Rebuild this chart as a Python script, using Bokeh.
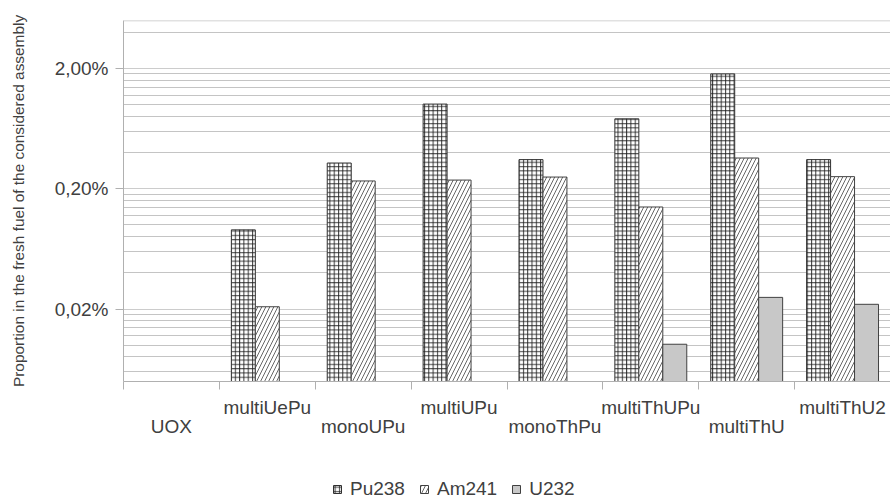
from bokeh.plotting import figure
from bokeh.layouts import column
from bokeh.models import (Range1d, FixedTicker, CustomJSTickFormatter, Legend,
                          LegendItem, Span, ColumnDataSource, LinearAxis)
from bokeh.embed import file_html
from bokeh.resources import INLINE

# ---------------- data ----------------
categories = ["UOX", "multiUePu", "monoUPu", "multiUPu", "monoThPu",
              "multiThUPu", "multiThU", "multiThU2"]
series_names = ["Pu238", "Am241", "U232"]
pu238 = [None, 0.091, 0.327, 1.01, 0.349, 0.762, 1.80, 0.349]   # percent
am241 = [None, 0.0209, 0.232, 0.236, 0.250, 0.141, 0.360, 0.252]
u232 = [None, None, None, None, None, 0.0102, 0.0250, 0.0219]
y_major_ticks = [0.02, 0.2, 2.0]
y_minor_ticks = [0.006, 0.008, 0.010, 0.012, 0.014, 0.016, 0.018,
                 0.04, 0.06, 0.08, 0.10, 0.12, 0.14, 0.16, 0.18,
                 0.4, 0.6, 0.8, 1.0, 1.2, 1.4, 1.6, 1.8,
                 4.0]
y_title = "Proportion in the fresh fuel of the considered assembly"

# ---------------- layout ----------------
FONT = "Liberation Sans"
TXT = "#404040"
AX = "#b0b0b0"
Y0, Y1 = 0.005, 5.0
n = len(categories)
W = 890
H_MAIN, H_LEG = 466, 36

p = figure(width=W, height=H_MAIN, y_axis_type="log",
           x_range=Range1d(0, n), y_range=Range1d(Y0, Y1),
           output_backend="svg", toolbar_location=None,
           min_border_left=123, min_border_right=0,
           min_border_top=20, min_border_bottom=H_MAIN - 381)
p.outline_line_color = None

# grid
yt = FixedTicker(ticks=y_major_ticks, minor_ticks=y_minor_ticks)
p.yaxis.ticker = yt
p.ygrid.ticker = yt
p.ygrid.grid_line_color = "#cccccc"
p.ygrid.minor_grid_line_color = "#c4c4c4"
p.xgrid.grid_line_color = None
p.add_layout(Span(location=Y1, dimension="width", line_color="#c4c4c4", line_width=1.5))

# y axis
p.yaxis.formatter = CustomJSTickFormatter(code="return tick.toFixed(2).replace('.', ',') + '%';")
p.yaxis.major_label_text_font = FONT
p.yaxis.major_label_text_font_size = "19px"
p.yaxis.major_label_text_color = TXT
p.yaxis.major_label_standoff = 7
p.yaxis.major_tick_out = 8
p.yaxis.major_tick_in = 0
p.yaxis.minor_tick_line_color = None
p.yaxis.axis_line_color = AX
p.yaxis.major_tick_line_color = AX
p.yaxis.axis_label = y_title
p.yaxis.axis_label_text_font = FONT
p.yaxis.axis_label_text_font_size = "15.4px"
p.yaxis.axis_label_text_font_style = "normal"
p.yaxis.axis_label_text_color = TXT
p.yaxis.axis_label_standoff = 25

# main x axis: ticks at category boundaries, no labels
p.xaxis.ticker = FixedTicker(ticks=list(range(n + 1)))
p.xaxis.formatter = CustomJSTickFormatter(code="return '';")
p.xaxis.major_label_text_font_size = "1px"
p.xaxis.major_label_standoff = 0
p.xaxis.major_tick_out = 8
p.xaxis.major_tick_in = 0
p.xaxis.minor_tick_line_color = None
p.xaxis.axis_line_color = AX
p.xaxis.major_tick_line_color = AX

label_fmt = CustomJSTickFormatter(args=dict(labels=categories),
                                  code="return labels[Math.floor(tick)];")


def label_axis(ticks, standoff):
    return LinearAxis(ticker=FixedTicker(ticks=ticks), formatter=label_fmt,
                      axis_line_color=None, major_tick_line_color=None,
                      minor_tick_line_color=None, major_tick_out=0, major_tick_in=0,
                      major_label_standoff=standoff,
                      major_label_text_font=FONT, major_label_text_font_size="19px",
                      major_label_text_color=TXT)


p.add_layout(label_axis([i + 0.5 for i in range(1, n, 2)], 7), "below")
p.add_layout(label_axis([i + 0.5 for i in range(0, n, 2)], -5), "below")

# bars
bw = 0.25
styles = [
    dict(fill_color="white", line_color="#303030", hatch_pattern="+",
         hatch_scale=4.3, hatch_weight=0.9, hatch_color="#202020"),
    dict(fill_color="white", line_color="#404040", hatch_pattern="/",
         hatch_scale=8, hatch_weight=0.8, hatch_color="#404040"),
    dict(fill_color="#c8c8c8", line_color="#404040"),
]
for k, vals in enumerate([pu238, am241, u232]):
    xs = [i + 0.5 + (k - 1) * bw for i, v in enumerate(vals) if v is not None]
    tops = [v for v in vals if v is not None]
    src = ColumnDataSource(dict(x=xs, top=tops))
    p.vbar(x="x", top="top", bottom=Y0, width=bw, source=src, line_width=1, **styles[k])

# legend strip (separate figure below the chart)
q = figure(width=W, height=H_LEG, x_range=Range1d(0, 1), y_range=Range1d(0, 1),
           x_axis_location=None, y_axis_location=None,
           output_backend="svg", toolbar_location=None,
           min_border_left=0, min_border_right=0, min_border_top=0, min_border_bottom=0)
q.grid.grid_line_color = None
q.outline_line_color = None
leg_renderers = []
for k in range(3):
    # legend swatches only: a dummy glyph placed far outside the canvas
    src = ColumnDataSource(dict(x=[50], top=[60]))
    leg_renderers.append(q.vbar(x="x", top="top", bottom=50, width=0.1, source=src,
                                line_width=1, **styles[k]))
legend = Legend(items=[LegendItem(label=s, renderers=[r]) for s, r in zip(series_names, leg_renderers)],
                location=(209, 2), orientation="horizontal",
                glyph_width=10, glyph_height=10, label_standoff=8, spacing=14,
                padding=0, margin=0, border_line_color=None, background_fill_alpha=0,
                label_text_font=FONT, label_text_font_size="19px", label_text_color=TXT)
q.add_layout(legend)

open("out.html", "w").write(file_html(column(p, q, spacing=0), INLINE))
